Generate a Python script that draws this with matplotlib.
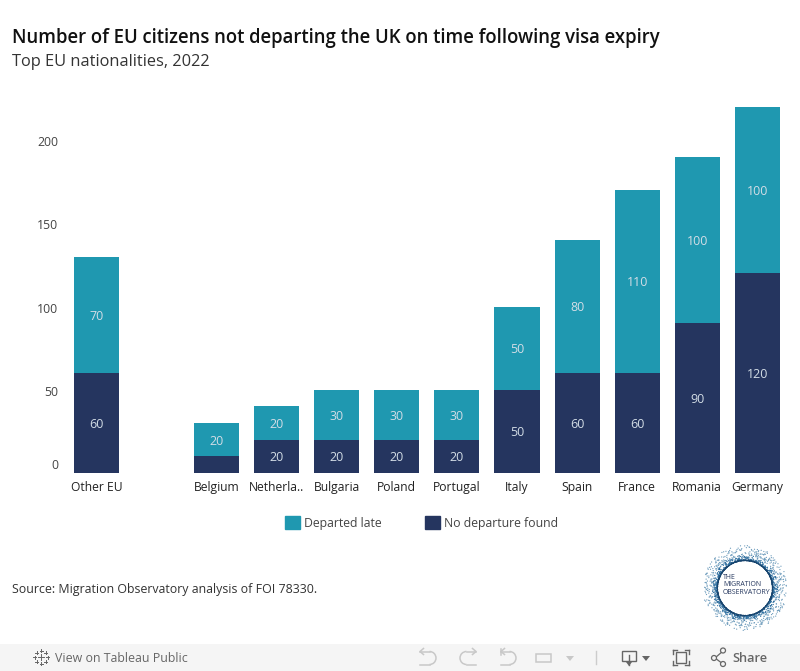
import numpy as np
import matplotlib
matplotlib.use("Agg")
import matplotlib.pyplot as plt
from matplotlib.patches import Rectangle, Arc, Circle, Patch
from matplotlib.transforms import ScaledTranslation

categories = ["Other EU", "", "Belgium", "Netherla..", "Bulgaria", "Poland", "Portugal",
              "Italy", "Spain", "France", "Romania", "Germany"]
no_departure = [60, 0, 10, 20, 20, 20, 20, 50, 60, 60, 90, 120]
departed_late = [70, 0, 20, 20, 30, 30, 30, 50, 80, 110, 100, 100]
y_ticks = [0, 50, 100, 150, 200]
TEAL = "#1f98b0"
NAVY = "#25355f"
LABEL = "#d3dde6"
TXT = "#333333"
W, H = 800, 671
plt.rcParams["font.family"] = ["Open Sans", "DejaVu Sans"]

fig = plt.figure(figsize=(8, 6.71), dpi=100, facecolor="white")
ax = fig.add_axes([66.4 / W, (H - 473) / H, 721 / W, 383 / H])
x = np.arange(len(categories))
b1 = ax.bar(x, no_departure, width=0.75, color=NAVY)
b2 = ax.bar(x, departed_late, width=0.75, bottom=no_departure, color=TEAL)
down = ScaledTranslation(0, -1.3 / 100, fig.dpi_scale_trans)
for xi, n, d in zip(x, no_departure, departed_late):
    if n >= 20:
        ax.text(xi, n / 2, str(n), ha="center", va="center", color=LABEL, fontsize=9,
                transform=ax.transData + down)
    if d >= 20:
        ax.text(xi, n + d / 2, str(d), ha="center", va="center", color=LABEL, fontsize=9,
                transform=ax.transData + down)
ax.set_xlim(-0.5, 11.5)
ax.set_ylim(0, 383 / 1.664)
ax.set_xticks(x, categories)
ax.set_yticks(y_ticks)
ax.tick_params(length=0)
ax.tick_params(axis="x", pad=5.5, labelsize=8.7, labelcolor="#222222")
ax.tick_params(axis="y", pad=6, labelsize=8.8, labelcolor="#444444")
for s in ax.spines.values():
    s.set_visible(False)
for lab in ax.get_yticklabels():
    lab.set_transform(lab.get_transform() + ScaledTranslation(0, -1 / 100, fig.dpi_scale_trans))
zero = ax.get_yticklabels()[0]
zero.set_transform(zero.get_transform() + ScaledTranslation(0, 10 / 100, fig.dpi_scale_trans))

fig.legend(handles=[Patch(color=TEAL, label="Departed late"), Patch(color=NAVY, label="No departure found")],
           ncol=2, frameon=False, loc="center left", bbox_to_anchor=(285 / W, (H - 523) / H),
           fontsize=8.8, labelcolor="#444444", handlelength=1.22, handleheight=1.22,
           handletextpad=0.33, columnspacing=3.56, borderpad=0, borderaxespad=0)

fig.text(12 / W, (H - 38) / H, "Number of EU citizens not departing the UK on time following visa expiry",
         fontsize=13.33, fontweight="semibold", color="#111111", va="center")
fig.text(12 / W, (H - 62) / H, "Top EU nationalities, 2022", fontsize=11.8, color="#333333", va="center")
fig.text(12 / W, (H - 590) / H, "Source: Migration Observatory analysis of FOI 78330.", fontsize=8.95,
         color=TXT, va="center")

ov = fig.add_axes([0, 0, 1, 1], zorder=5)
ov.set_xlim(0, W)
ov.set_ylim(H, 0)
ov.axis("off")
ov.patch.set_alpha(0)

# footer bar
ov.add_patch(Rectangle((0, 644), W, 27, color="#f5f5f5", lw=0))
ov.text(55, 658, "View on Tableau Public", fontsize=8.9, color="#666666", va="center", fontweight="medium")
ov.text(732, 658, "Share", fontsize=9.2, color="#666666", va="center", fontweight="semibold")
# tableau mark
for dx, dy, r in [(0, 0, 3), (-6.5, 0, 1.5), (6.5, 0, 1.5), (0, -6.5, 1.5), (0, 6.5, 1.5),
                  (-4.5, -4.5, 1.5), (4.5, -4.5, 1.5), (-4.5, 4.5, 1.5), (4.5, 4.5, 1.5)]:
    ov.plot([41 + dx - r, 41 + dx + r], [657 + dy, 657 + dy], color="#666666", lw=0.7)
    ov.plot([41 + dx, 41 + dx], [657 + dy - r, 657 + dy + r], color="#666666", lw=0.7)
# undo / redo / revert icons
G = "#c8c8c8"
def turn(xa, xb, bulge_right):
    xc = max(xa, xb) - 6.5 if bulge_right else min(xa, xb) + 6.5
    t1, t2 = (270, 90) if bulge_right else (90, 270)
    ov.add_patch(Arc((xc, 658), 13, 13, theta1=t1, theta2=t2, color=G, lw=1.1))
    tip = min(xa, xb) if bulge_right else max(xa, xb)
    ov.plot([tip, xc], [664.5, 664.5], color=G, lw=1.1)
    ov.plot([tip, xc], [651.5, 651.5], color=G, lw=1.1)
    s = 3.5 if bulge_right else -3.5
    ov.plot([tip + s, tip, tip + s], [648.5, 651.5, 654.5], color=G, lw=1.1)
turn(420, 436, True)
turn(460, 476, False)
turn(501, 516, True)
ov.plot([500.5, 500.5], [649, 655], color=G, lw=1.1)
ov.add_patch(Rectangle((536, 653.5), 15, 8, fill=False, ec=G, lw=1.1))
ov.fill([566, 574, 570], [656, 656, 661], color=G, lw=0)
ov.plot([595.5, 595.5], [651, 664], color="#cccccc", lw=1)
D = "#666666"
ov.add_patch(Rectangle((622, 651), 14, 10, fill=False, ec=D, lw=1))
ov.plot([629, 629], [655, 665], color=D, lw=1)
ov.fill([626, 632, 629], [662, 662, 666], color=D, lw=0)
ov.fill([642, 650, 646], [656, 656, 661], color=D, lw=0)
ov.add_patch(Rectangle((676, 652), 10, 11, fill=False, ec=D, lw=1))
for xa, xb, ya, yb in [(673, 677, 650, 650), (673, 673, 650, 654), (689, 685, 650, 650), (689, 689, 650, 654),
                       (673, 677, 665, 665), (673, 673, 665, 661), (689, 685, 665, 665), (689, 689, 665, 661)]:
    ov.plot([xa, xb], [ya, yb], color=D, lw=1)
ov.plot([715, 723], [658, 651], color=D, lw=0.9)
ov.plot([715, 723], [658, 664], color=D, lw=0.9)
for cx, cy in [(714, 658), (723, 650.5), (723, 664)]:
    ov.add_patch(Circle((cx, cy), 2.5, fc="#f5f5f5", ec=D, lw=0.9, zorder=4))

# logo: deterministic stipple ring, dense at the inner edge and thinning outwards
k = np.arange(1900)
theta = k * 2.399963
frac = (k * k * 0.7548777 + k * 0.5698403) % 1
r = 27.5 + 15 * frac ** 3.6
px = 745 + r * np.cos(theta)
py = 588 + r * np.sin(theta)
cols = np.where(frac < 0.45, "#17456f", np.where(frac < 0.75, "#2c6d9e", "#6f9dbd"))
ov.scatter(px, py, s=0.8, c=cols, lw=0)
for ty, t in [(577.5, "THE"), (584.7, "MIGRATION"), (592, "OBSERVATORY")]:
    ov.text(723, ty, t, fontsize=5.0, color="#26385f", va="center", ha="left")

fig.savefig("out.png", dpi=100)
